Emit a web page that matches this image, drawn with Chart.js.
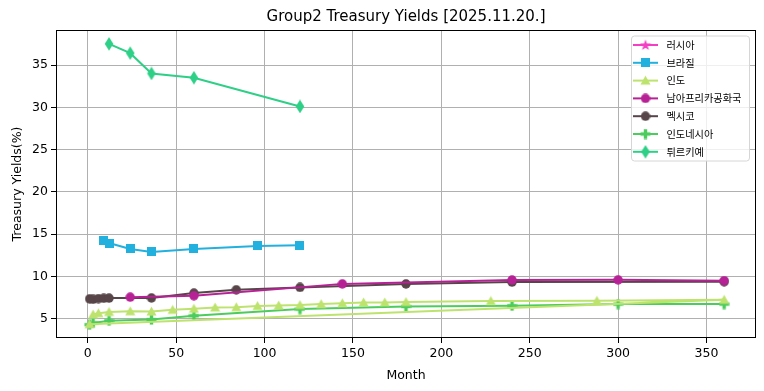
<!DOCTYPE html>
<html>
<head>
<meta charset="utf-8">
<script src="https://cdn.jsdelivr.net/npm/chart.js@4/dist/chart.umd.min.js"></script>
<style>
html,body{margin:0;padding:0;background:#fff;}
#wrap{width:764px;height:391px;position:relative;}
</style>
</head>
<body>
<div id="wrap"><canvas id="c" width="764" height="391"></canvas></div>
<script>
// ---- data ----
const chartTitle = 'Group2 Treasury Yields [2025.11.20.]';
const seriesNames = ['러시아','브라질','인도','남아프리카공화국','멕시코','인도네시아','튀르키예'];

const russiaMonths = [];
const russiaYields = [];

const brazilMonths = [9, 12, 24, 36, 60, 96, 120];
const brazilYields = [14.3, 13.95, 13.25, 12.9, 13.25, 13.6, 13.7];

const indiaMonths = [3, 6, 12, 24, 36, 48, 60, 72, 84, 96, 108, 120, 132, 144, 156, 168, 180, 228, 288, 360, 1];
const indiaYields = [5.5, 5.65, 5.8, 5.88, 5.85, 6.05, 6.18, 6.33, 6.36, 6.5, 6.57, 6.62, 6.73, 6.83, 6.93, 6.93, 6.97, 7.1, 7.12, 7.24, 4.35];

const southAfricaMonths = [24, 60, 144, 240, 300, 360];
const southAfricaYields = [7.55, 7.72, 9.12, 9.58, 9.6, 9.5];

const mexicoMonths = [1, 3, 6, 9, 12, 36, 60, 84, 120, 180, 240, 360];
const mexicoYields = [7.35, 7.3, 7.38, 7.42, 7.44, 7.46, 8.03, 8.42, 8.7, 9.12, 9.33, 9.38];

const indonesiaMonths = [1, 3, 12, 36, 60, 120, 180, 240, 300, 360];
const indonesiaYields = [4.3, 4.5, 4.76, 4.9, 5.35, 6.14, 6.45, 6.53, 6.73, 6.73];

const turkeyMonths = [12, 24, 36, 60, 120];
const turkeyYields = [37.5, 36.4, 34.0, 33.5, 30.1];

const xTicks = [0, 50, 100, 150, 200, 250, 300, 350];
const yTicks = [5, 10, 15, 20, 25, 30, 35];

const colors = ['#f23fc4', '#22b0de', '#bde36e', '#b62296', '#574549', '#4ccc5c', '#2ecf86'];

// ---- marker images ----
function mk(w, h, draw) {
  const c = document.createElement('canvas');
  c.width = w; c.height = h;
  const g = c.getContext('2d');
  draw(g, w, h);
  return c;
}
function starMarker(col) {
  return mk(12, 12, (g) => {
    g.fillStyle = col; g.beginPath();
    for (let i = 0; i < 10; i++) {
      const r = i % 2 === 0 ? 5.8 : 2.4;
      const a = -Math.PI / 2 + i * Math.PI / 5;
      const px = 6 + r * Math.cos(a), py = 6.4 + r * Math.sin(a);
      i === 0 ? g.moveTo(px, py) : g.lineTo(px, py);
    }
    g.closePath(); g.fill();
  });
}
function squareMarker(col) {
  return mk(9, 9, (g) => { g.fillStyle = col; g.fillRect(0, 0, 9, 9); });
}
function triangleMarker(col) {
  return mk(11, 11, (g) => {
    g.fillStyle = col; g.beginPath();
    g.moveTo(5.5, 0.5); g.lineTo(10.5, 9.5); g.lineTo(0.5, 9.5); g.closePath(); g.fill();
  });
}
function circleMarker(col) {
  return mk(10, 10, (g) => {
    g.fillStyle = col; g.beginPath(); g.arc(5, 5, 4.7, 0, Math.PI * 2); g.fill();
  });
}
function plusMarker(col) {
  return mk(11, 11, (g) => {
    g.fillStyle = col;
    g.fillRect(3.8, 0.5, 3.4, 10);
    g.fillRect(0.5, 3.8, 10, 3.4);
  });
}
function diamondMarker(col) {
  return mk(10, 14, (g) => {
    g.fillStyle = col; g.beginPath();
    g.moveTo(5, 0.3); g.lineTo(9.3, 7); g.lineTo(5, 13.7); g.lineTo(0.7, 7); g.closePath(); g.fill();
  });
}
const markerMakers = [starMarker, squareMarker, triangleMarker, circleMarker, circleMarker, plusMarker, diamondMarker];
const markers = colors.map((c, i) => markerMakers[i](c));

const monthsList = [russiaMonths, brazilMonths, indiaMonths, southAfricaMonths, mexicoMonths, indonesiaMonths, turkeyMonths];
const yieldsList = [russiaYields, brazilYields, indiaYields, southAfricaYields, mexicoYields, indonesiaYields, turkeyYields];

const datasets = seriesNames.map((name, i) => ({
  label: name,
  data: monthsList[i].map((m, k) => ({ x: m, y: yieldsList[i][k] })),
  borderColor: colors[i],
  backgroundColor: colors[i],
  borderWidth: 2,
  pointStyle: markers[i],
  pointRadius: 5,
  showLine: true,
  fill: false,
  tension: 0
}));

const FONT = "'DejaVu Sans', 'Noto Sans CJK KR', sans-serif";

const framePlugin = {
  id: 'frame',
  afterDatasetsDraw(chart) {
    const { ctx, chartArea: a } = chart;
    ctx.save();
    ctx.strokeStyle = '#000'; ctx.lineWidth = 1;
    ctx.strokeRect(Math.round(a.left) + 0.5, Math.round(a.top) + 0.5,
                   Math.round(a.right - a.left) - 1, Math.round(a.bottom - a.top) - 1);
    ctx.restore();
  }
};

// axes title centred over the plot area, as in the reference
const axesTitlePlugin = {
  id: 'axesTitle',
  afterDraw(chart) {
    const { ctx, chartArea: a } = chart;
    ctx.save();
    ctx.font = "15px " + FONT;
    ctx.fillStyle = '#000';
    ctx.textAlign = 'center';
    ctx.textBaseline = 'middle';
    ctx.fillText(chartTitle, (a.left + a.right) / 2, 17);
    ctx.restore();
  }
};

const legendPlugin = {
  id: 'mplLegend',
  afterDraw(chart) {
    const ctx = chart.ctx;
    const bx = 631, by = 35.5, bw = 118, bh = 125;
    ctx.save();
    ctx.beginPath();
    if (ctx.roundRect) ctx.roundRect(bx + 0.5, by + 0.5, bw, bh, 3); else ctx.rect(bx + 0.5, by + 0.5, bw, bh);
    ctx.fillStyle = 'rgba(255,255,255,0.8)';
    ctx.fill();
    ctx.strokeStyle = '#d6d6d6'; ctx.lineWidth = 1; ctx.stroke();
    ctx.font = "10.2px 'Noto Sans CJK KR', 'DejaVu Sans', sans-serif";
    ctx.textBaseline = 'middle';
    ctx.fillStyle = '#000';
    seriesNames.forEach((name, i) => {
      const y = 45 + i * 17.8;
      ctx.strokeStyle = colors[i]; ctx.lineWidth = 2;
      ctx.beginPath(); ctx.moveTo(633, y); ctx.lineTo(658, y); ctx.stroke();
      const m = markers[i];
      ctx.drawImage(m, 645.5 - m.width / 2, y - m.height / 2);
      ctx.fillStyle = '#000';
      ctx.fillText(name, 666.5, y);
    });
    ctx.restore();
  }
};

new Chart(document.getElementById('c'), {
  type: 'scatter',
  data: { datasets },
  options: {
    responsive: false,
    animation: false,
    events: [],
    layout: { padding: { left: 0, right: 8, top: 30, bottom: 0 } },
    plugins: {
      legend: { display: false },
      tooltip: { enabled: false },
      title: { display: false }
    },
    scales: {
      x: {
        type: 'linear',
        min: -18, max: 378,
        afterBuildTicks(s) { s.ticks = xTicks.map(v => ({ value: v })); },
        afterFit(s) { s.height = 53; },
        border: { display: false },
        grid: { color: '#b0b0b0', lineWidth: 1, drawTicks: true, tickLength: 5, tickColor: '#000', tickWidth: 1 },
        ticks: { color: '#000', font: { family: FONT, size: 12.5 }, padding: 3, maxRotation: 0, autoSkip: false },
        title: { display: true, text: 'Month', color: '#000', font: { family: FONT, size: 12.5 }, padding: { top: 0, bottom: 8 } }
      },
      y: {
        type: 'linear',
        min: 2.72, max: 39.14,
        afterBuildTicks(s) { s.ticks = yTicks.map(v => ({ value: v })); },
        afterFit(s) { s.width = 56; },
        border: { display: false },
        grid: { color: '#b0b0b0', lineWidth: 1, drawTicks: true, tickLength: 5, tickColor: '#000', tickWidth: 1 },
        ticks: { color: '#000', font: { family: FONT, size: 12.5 }, padding: 3, autoSkip: false },
        title: { display: true, text: 'Treasury Yields(%)', color: '#000', font: { family: FONT, size: 12.5 }, padding: { top: 10, bottom: 0 } }
      }
    }
  },
  plugins: [framePlugin, axesTitlePlugin, legendPlugin]
});
</script>
</body>
</html>
